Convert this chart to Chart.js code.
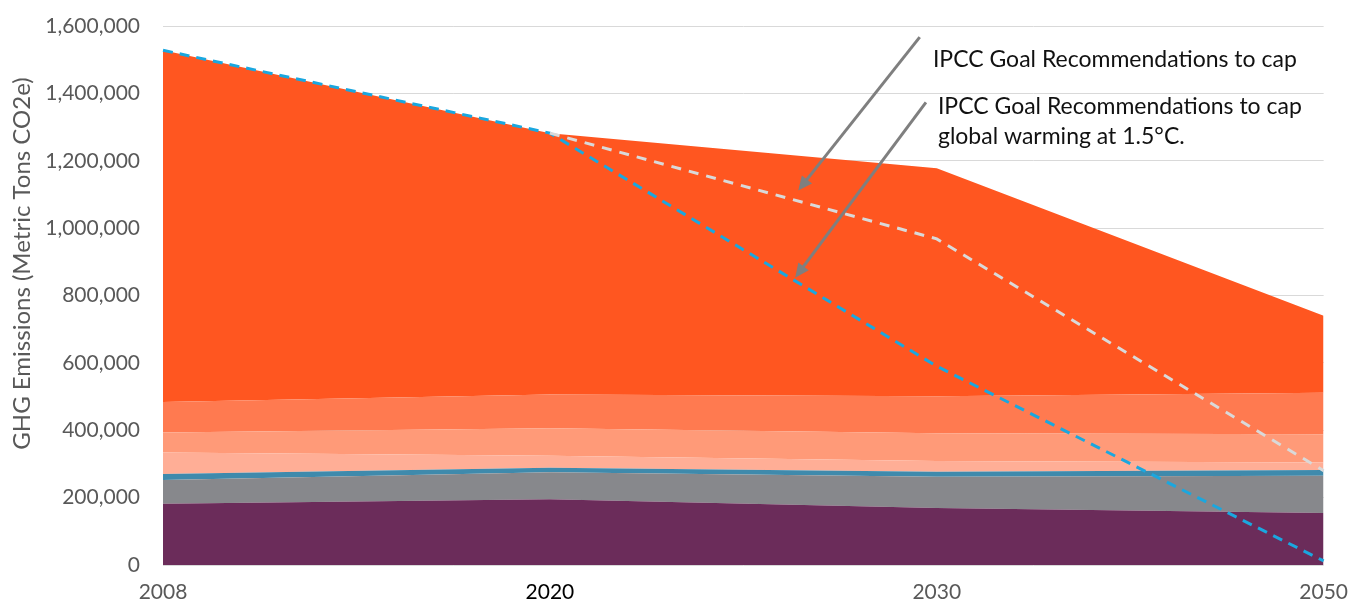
<!DOCTYPE html>
<html>
<head>
<meta charset="utf-8">
<script src="https://cdn.jsdelivr.net/npm/chart.js@4/dist/chart.umd.min.js"></script>
<style>
html,body{margin:0;padding:0;background:#fff;}
#wrap{width:1363px;height:607px;position:relative;}
</style>
</head>
<body>
<div id="wrap"><canvas id="c" width="1363" height="607"></canvas></div>
<script>
// ---- data ----
const years = ['2008', '2020', '2030', '2050'];
const yTickValues = [0, 200000, 400000, 600000, 800000, 1000000, 1200000, 1400000, 1600000];
// stacked layers, bottom to top (each value is the layer's own thickness)
const layerPurple   = [182000, 195000, 169000, 154000];
const layerGray     = [70000, 80000, 93000, 111000];
const layerBlue     = [18000, 14000, 15000, 17000];
const layerPinkPale = [64000, 35000, 32000, 22000];
const layerPinkMid  = [59000, 82000, 82000, 84000];
const layerSalmon   = [91000, 100000, 110000, 123000];
const layerOrange   = [1044000, 776000, 677000, 229000];
// goal pathways (not stacked)
const goalCap       = [null, 1282000, 968000, 280000];
const goal15C       = [1528000, 1282000, 590000, 12000];
const yTitle = 'GHG Emissions (Metric Tons CO2e)';
const noteCap = ['IPCC Goal Recommendations to cap'];
const note15C = ['IPCC Goal Recommendations to cap', 'global warming at 1.5°C.'];
// annotation anchors in data units: [category index, value]
const noteCapText  = [1.99, 1501000];
const noteCapArrow = [[1.956, 1567000], [1.642, 1112000]];
const note15CText  = [2.003, 1361000];
const note15CArrow = [[1.972, 1373000], [1.634, 853000]];

const FONT = 'Lato, "Open Sans", sans-serif';

function area(data, color, fill) {
  return { type: 'line', data, backgroundColor: color, borderColor: color, borderWidth: 0,
           pointRadius: 0, fill, tension: 0, stack: 'emissions', order: 1 };
}

const annotate = {
  id: 'annotate',
  afterDatasetsDraw(chart) {
    const { ctx, scales: { x, y } } = chart;
    const px = p => [x.getPixelForValue(p[0]), y.getPixelForValue(p[1])];
    function arrow(from, to) {
      const [x1, y1] = px(from), [x2, y2] = px(to);
      const ang = Math.atan2(y2 - y1, x2 - x1);
      const head = 14, half = 6.5;
      ctx.save();
      ctx.strokeStyle = '#7f7f7f';
      ctx.fillStyle = '#7f7f7f';
      ctx.lineWidth = 3;
      ctx.beginPath();
      ctx.moveTo(x1, y1);
      ctx.lineTo(x2 - Math.cos(ang) * head * 0.8, y2 - Math.sin(ang) * head * 0.8);
      ctx.stroke();
      ctx.beginPath();
      ctx.moveTo(x2, y2);
      ctx.lineTo(x2 - Math.cos(ang) * head + Math.sin(ang) * half, y2 - Math.sin(ang) * head - Math.cos(ang) * half);
      ctx.lineTo(x2 - Math.cos(ang) * head - Math.sin(ang) * half, y2 - Math.sin(ang) * head + Math.cos(ang) * half);
      ctx.closePath();
      ctx.fill();
      ctx.restore();
    }
    function text(lines, at) {
      const [tx, ty] = px(at);
      ctx.save();
      ctx.fillStyle = '#111';
      ctx.font = '23px ' + FONT;
      ctx.textAlign = 'left';
      ctx.textBaseline = 'middle';
      lines.forEach((l, i) => ctx.fillText(l, tx, ty + i * 30));
      ctx.restore();
    }
    arrow(noteCapArrow[0], noteCapArrow[1]);
    arrow(note15CArrow[0], note15CArrow[1]);
    text(noteCap, noteCapText);
    text(note15C, note15CText);
  },
  afterDraw(chart) {
    const { ctx, chartArea } = chart;
    ctx.save();
    ctx.fillStyle = '#595959';
    ctx.font = '24px ' + FONT;
    ctx.textAlign = 'center';
    ctx.textBaseline = 'middle';
    ctx.translate(22, (chartArea.top + chartArea.bottom) / 2 - 32);
    ctx.rotate(-Math.PI / 2);
    ctx.fillText(yTitle, 0, 0);
    ctx.restore();
  }
};

new Chart(document.getElementById('c'), {
  type: 'line',
  data: {
    labels: years,
    datasets: [
      area(layerPurple, '#6b2c5a', 'origin'),
      area(layerGray, '#87888c', '-1'),
      area(layerBlue, '#3f8aac', '-1'),
      area(layerPinkPale, '#ffae96', '-1'),
      area(layerPinkMid, '#ff9a78', '-1'),
      area(layerSalmon, '#ff7a50', '-1'),
      area(layerOrange, '#ff5620', '-1'),
      { type: 'line', data: goalCap, borderColor: '#d9d9d9', borderWidth: 3, borderDash: [10, 8],
        pointRadius: 0, fill: false, tension: 0, stack: 'goalCap', order: 0 },
      { type: 'line', data: goal15C, borderColor: '#1aa7df', borderWidth: 3, borderDash: [10, 7],
        pointRadius: 0, fill: false, tension: 0, stack: 'goal15C', order: 0 }
    ]
  },
  options: {
    responsive: false,
    animation: false,
    layout: { padding: { top: 26, right: 36, left: 0, bottom: 0 } },
    plugins: { legend: { display: false }, tooltip: { enabled: false } },
    scales: {
      x: {
        grid: { display: false, drawTicks: false },
        border: { display: false },
        ticks: {
          color: ctx => ctx.index === 1 ? '#000000' : '#595959',
          font: { family: FONT, size: 21 },
          padding: 15,
          maxRotation: 0
        },
        afterFit: s => { s.height = 42; }
      },
      y: {
        stacked: true,
        min: 0,
        max: 1600000,
        afterBuildTicks: s => { s.ticks = yTickValues.map(v => ({ value: v })); },
        grid: { color: '#d9d9d9', lineWidth: 1, drawTicks: false },
        border: { display: false },
        ticks: {
          color: '#595959',
          font: { family: FONT, size: 21 },
          padding: 23,
          callback: v => Number(v).toLocaleString('en-US')
        },
        title: { display: false, text: yTitle },
        afterFit: s => { s.width = 163; s.paddingTop = 0; s.paddingBottom = 0; }
      }
    }
  },
  plugins: [annotate]
});
</script>
</body>
</html>
